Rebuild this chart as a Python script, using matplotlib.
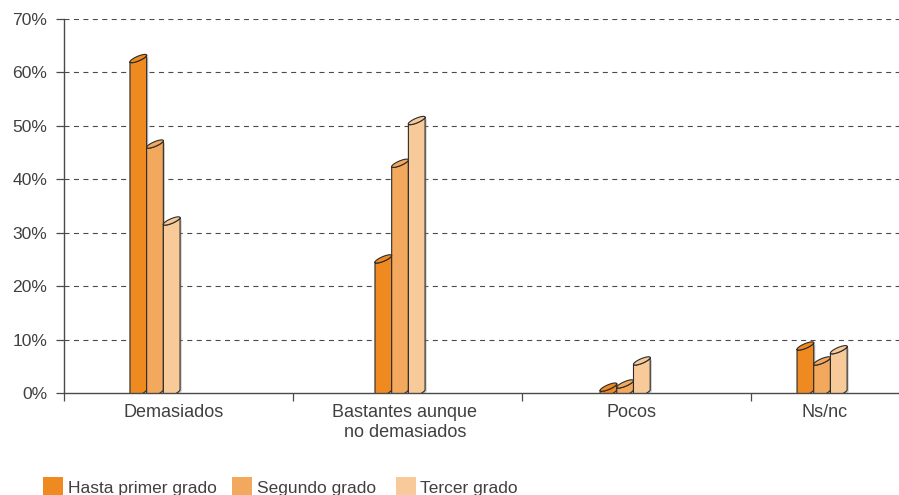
import numpy as np
import matplotlib
matplotlib.use("Agg")
import matplotlib.pyplot as plt
from matplotlib.patches import Polygon, Rectangle

# ---- data -------------------------------------------------------------
categories = ["Demasiados", "Bastantes aunque\nno demasiados", "Pocos", "Ns/nc"]
series_names = ["Hasta primer grado", "Segundo grado", "Tercer grado"]
hasta_primer = [62.6, 25.1, 1.1, 8.8]
segundo = [46.6, 43.0, 1.7, 6.0]
tercer = [32.2, 51.0, 6.0, 8.1]
y_ticks = [0, 10, 20, 30, 40, 50, 60, 70]
y_tick_labels = ["0%", "10%", "20%", "30%", "40%", "50%", "60%", "70%"]

# ---- layout / style ---------------------------------------------------
colors = ["#EE8A1F", "#F3A95D", "#F8CA99"]
edge = "#2b2b2b"
text_col = "#404040"
font = "Liberation Sans"

W, H, DPI = 899, 495, 100
fig = plt.figure(figsize=(W / DPI, H / DPI), dpi=DPI)
ax_left, ax_right, ax_top, ax_bot = 64, 899, 19, 393
ax = fig.add_axes([ax_left / W, (H - ax_bot) / H,
                   (ax_right - ax_left) / W, (ax_bot - ax_top) / H])

cat_px = 229.0                      # width of one category slot in pixels
x_max = (ax_right - ax_left) / cat_px
ax.set_xlim(0, x_max)
ax.set_ylim(0, 70)
px_x = 1.0 / cat_px                 # data units per pixel, x
px_y = 70.0 / (ax_bot - ax_top)     # data units per pixel, y

group_left = [0.288, 1.358, 2.341, 3.201]   # left edge of each bar group
label_x = [0.480, 1.489, 2.480, 3.323]      # centre of each category label
bar_w = 16.7 * px_x

# oblique-ellipse geometry (pixels) for the cylinder caps
cap_dx, cap_dy, cap_b = 8.35, 3.3, 2.5


def cap_points(cx, cy, t):
    x = cx + np.cos(t) * cap_dx * px_x
    y = cy + (np.cos(t) * cap_dy + np.sin(t) * cap_b) * px_y
    return np.column_stack([x, y])


def cylinder(x0, value, color):
    cx = x0 + bar_w / 2
    lower = np.linspace(np.pi, 2 * np.pi, 40)
    bottom = cap_points(cx, 0.0, lower)
    top_back = cap_points(cx, value, lower[::-1])
    body = np.vstack([bottom, top_back])
    # soft shadow on the right
    sh = body + np.array([1.6 * px_x, -1.2 * px_y])
    ax.add_patch(Polygon(sh, closed=True, facecolor="#9a9a9a", edgecolor="none",
                         alpha=0.55, zorder=2))
    ax.add_patch(Polygon(body, closed=True, facecolor=color, edgecolor=edge,
                         linewidth=0.8, zorder=3, joinstyle="round"))
    full = cap_points(cx, value, np.linspace(0, 2 * np.pi, 80))
    ax.add_patch(Polygon(full, closed=True, facecolor=color, edgecolor=edge,
                         linewidth=0.8, zorder=4))


series = [hasta_primer, segundo, tercer]
for i, x0 in enumerate(group_left):
    for s, vals in enumerate(series):
        cylinder(x0 + s * bar_w, vals[i], colors[s])

# ---- axes decoration --------------------------------------------------
for y in y_ticks[1:]:
    ax.axhline(y, color="#4a4a4a", linewidth=0.8, linestyle=(0, (4.5, 4.0)),
               zorder=1)

for side in ["top", "right"]:
    ax.spines[side].set_visible(False)
for side in ["left", "bottom"]:
    ax.spines[side].set_color("#4a4a4a")
    ax.spines[side].set_linewidth(1.0)
    ax.spines[side].set_zorder(5)

ax.set_yticks(y_ticks)
ax.set_yticklabels(y_tick_labels, fontsize=12.6, color=text_col, family=font)
ax.tick_params(axis="y", length=6, width=0.9, color="#4a4a4a", pad=6)

ax.set_xticks([0, 1, 2, 3])
ax.set_xticklabels([])
ax.tick_params(axis="x", length=6, width=0.9, color="#4a4a4a")

for x, label in zip(label_x, categories):
    ax.text(x, -2.1, label, ha="center", va="top", fontsize=13,
            color=text_col, family=font, linespacing=1.2,
            transform=ax.transData, clip_on=False)

# ---- legend -----------------------------------------------------------
legend_sq = [43, 232, 396]
legend_tx = [68, 257, 420]
for sq, tx, name, col in zip(legend_sq, legend_tx, series_names, colors):
    fig.add_artist(Rectangle((sq / W, 0), 20 / W, 18 / H, transform=fig.transFigure,
                             facecolor=col, edgecolor="none"))
    fig.text(tx / W, (H - 493) / H, name, fontsize=12.5, color=text_col,
             family=font, ha="left", va="baseline")

fig.savefig("out.png", dpi=DPI)
